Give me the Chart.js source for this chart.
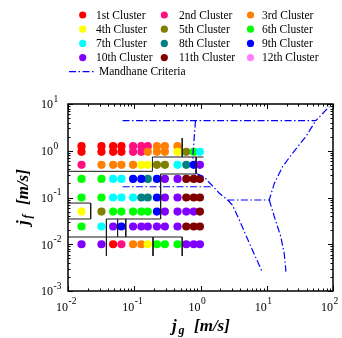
<!DOCTYPE html>
<html>
<head>
<meta charset="utf-8">
<script src="https://cdn.jsdelivr.net/npm/chart.js@4.4.1/dist/chart.umd.min.js"></script>
<style>
html, body { margin: 0; padding: 0; background: #fff; }
#wrap { width: 342px; height: 338px; }
</style>
</head>
<body>
<div id="wrap"><canvas id="flowMap" width="342" height="338"></canvas></div>
<script>
// cluster names and colours (legend order)
const clusterNames = ['1st Cluster', '2nd Cluster', '3rd Cluster', '4th Cluster', '5th Cluster', '6th Cluster',
  '7th Cluster', '8th Cluster', '9th Cluster', '10th Cluster', '11th Cluster', '12th Cluster'];
const clusterColors = ['#FF0000', '#FF1080', '#FF8000', '#FFFF00', '#808000', '#00FF00',
  '#00FFFF', '#008080', '#0000FF', '#8000FF', '#800000', '#FF80FF'];

// test matrix: gas superficial velocity columns, liquid superficial velocity rows [m/s]
const jgCols = [0.016, 0.032, 0.048, 0.064, 0.096, 0.128, 0.16, 0.22, 0.29, 0.45, 0.61, 0.79, 0.98];
const jfRows = [1.25, 0.95, 0.5, 0.25, 0.1, 0.05, 0.024, 0.01];
// cluster number of each test point (0 = no point)
const clusterGrid = [
  [1, 1, 1, 1, 2, 2, 2, 3, 3, 3, 0, 0, 0],
  [1, 1, 1, 1, 2, 2, 3, 3, 3, 4, 5, 6, 7],
  [2, 3, 3, 3, 3, 4, 4, 5, 5, 7, 8, 9, 10],
  [6, 6, 7, 7, 9, 9, 8, 9, 10, 10, 11, 11, 11],
  [6, 6, 7, 7, 7, 8, 8, 9, 10, 10, 11, 11, 11],
  [4, 5, 6, 6, 6, 6, 6, 9, 10, 10, 10, 10, 11],
  [6, 7, 10, 9, 10, 10, 10, 10, 10, 10, 11, 11, 11],
  [10, 10, 1, 2, 3, 3, 4, 6, 6, 6, 10, 10, 10]
];

// black cluster boundaries [jg, jf]
const boundaryLines = [
  [[0.01, 0.363], [0.188, 0.363], [0.188, 0.735], [1.11, 0.735]],
  [[0.53, 1.87], [0.53, 0.735]],
  [[0.86, 0.735], [0.86, 0.318], [0.25, 0.318], [0.25, 0.0347], [0.038, 0.0347], [0.038, 0.0056]],
  [[0.056, 0.0347], [0.056, 0.0143]],
  [[0.0745, 0.0347], [0.0745, 0.0143]],
  [[0.01, 0.0143], [0.53, 0.0143]],
  [[0.192, 0.0143], [0.192, 0.0056]],
  [[0.53, 0.0143], [0.53, 0.0056]],
  [[0.01, 0.076], [0.022, 0.076], [0.022, 0.0347], [0.01, 0.0347]]
];

// Mandhane flow pattern boundaries [jg, jf]
const mandhaneLines = [
  [[0.0666, 4.4], [55, 4.4], [88, 8.8]],
  [[0.84, 4.4], [0.765, 0.746], [0.86, 0.33], [1.15, 0.27], [1.93, 0.123], [2.57, 0.0885], [10.9, 0.0885],
   [13, 0.2], [17.3, 0.456], [24.4, 0.88], [38.8, 2.0], [55, 4.4]],
  [[0.0666, 0.17], [1.45, 0.17]],
  [[2.57, 0.0885], [3.03, 0.069], [3.86, 0.033], [5.45, 0.0106], [8.5, 0.0026]],
  [[10.9, 0.0885], [13, 0.039], [16.3, 0.0145], [18.3, 0.0065], [19.5, 0.0026]]
];

const xTickExps = [-2, -1, 0, 1, 2];
const yTickExps = [-3, -2, -1, 0, 1];

const SERIF = "'Liberation Serif', 'Times New Roman', serif";
const MANDHANE_DASH = [7, 2.5, 1.5, 2.5];

function clusterPoints(n) {
  const pts = [];
  clusterGrid.forEach((row, r) => {
    row.forEach((c, k) => { if (c === n) pts.push({ x: jgCols[k], y: jfRows[r] }); });
  });
  return pts;
}

const datasets = [];
clusterNames.forEach((name, i) => {
  datasets.push({
    label: name,
    data: clusterPoints(i + 1),
    backgroundColor: clusterColors[i],
    borderColor: clusterColors[i],
    pointRadius: 4.1,
    pointBorderWidth: 0,
    order: 100 - i
  });
});
boundaryLines.forEach(line => {
  datasets.push({
    type: 'line', label: 'boundary',
    data: line.map(p => ({ x: p[0], y: p[1] })),
    borderColor: '#1a1a1a', borderWidth: 1, pointRadius: 0, fill: false, tension: 0, order: 1
  });
});
mandhaneLines.forEach(line => {
  datasets.push({
    type: 'line', label: 'Mandhane Criteria',
    data: line.map(p => ({ x: p[0], y: p[1] })),
    borderColor: '#0000FF', borderWidth: 1.2, borderDash: MANDHANE_DASH,
    pointRadius: 0, fill: false, tension: 0, order: 0
  });
});

function drawPower(ctx, x, y, exp, alignRight) {
  ctx.font = '12px ' + SERIF;
  ctx.textBaseline = 'alphabetic';
  ctx.textAlign = 'left';
  const w = ctx.measureText('10').width;
  const x0 = alignRight ? x - w : x;
  ctx.fillText('10', x0, y);
  ctx.font = '9.5px ' + SERIF;
  ctx.fillText(String(exp), x0 + w + 0.5, y - 6.5);
}

const decor = {
  id: 'decor',
  afterDatasetsDraw(chart) {
    const { ctx, chartArea: a, scales: { x, y } } = chart;
    ctx.save();
    ctx.strokeStyle = '#000';
    ctx.fillStyle = '#000';
    ctx.lineWidth = 1;
    ctx.beginPath();
    // x ticks, top and bottom, inward
    for (let e = -2; e <= 2; e++) {
      for (let k = 1; k <= 9; k++) {
        if (e === 2 && k > 1) break;
        const px = Math.round(x.getPixelForValue(k * Math.pow(10, e))) + 0.5;
        const len = k === 1 ? 5 : 2.5;
        ctx.moveTo(px, a.bottom); ctx.lineTo(px, a.bottom - len);
        ctx.moveTo(px, a.top); ctx.lineTo(px, a.top + len);
      }
    }
    for (let e = -3; e <= 1; e++) {
      for (let k = 1; k <= 9; k++) {
        if (e === 1 && k > 1) break;
        const py = Math.round(y.getPixelForValue(k * Math.pow(10, e))) + 0.5;
        const len = k === 1 ? 5 : 2.5;
        ctx.moveTo(a.left, py); ctx.lineTo(a.left + len, py);
        ctx.moveTo(a.right, py); ctx.lineTo(a.right - len, py);
      }
    }
    ctx.stroke();
    ctx.lineWidth = 1.5;
    ctx.strokeRect(a.left, a.top, a.right - a.left, a.bottom - a.top);

    // tick labels
    xTickExps.forEach(e => drawPower(ctx, x.getPixelForValue(Math.pow(10, e)), 310.5, e, true));
    yTickExps.forEach(e => drawPower(ctx, 41, y.getPixelForValue(Math.pow(10, e)) + 4.3, e, false));

    // axis titles
    ctx.font = 'italic bold 17px ' + SERIF;
    ctx.textAlign = 'left';
    ctx.fillText('j', 172, 331);
    ctx.font = 'italic bold 12px ' + SERIF;
    ctx.fillText('g', 178.5, 334);
    ctx.font = 'italic bold 17px ' + SERIF;
    ctx.fillText('[m/s]', 194, 331);

    ctx.save();
    ctx.translate(28, 197);
    ctx.rotate(-Math.PI / 2);
    ctx.font = 'italic bold 17px ' + SERIF;
    ctx.fillText('j', -28, 0);
    ctx.font = 'italic bold 12px ' + SERIF;
    ctx.fillText('f', -21.5, 3);
    ctx.font = 'italic bold 17px ' + SERIF;
    ctx.fillText('[m/s]', -8, 0);
    ctx.restore();

    // legend
    const dotX = [82.7, 164.3, 250.5];
    const textX = [96, 179, 262];
    ctx.font = '11.5px ' + SERIF;
    ctx.textBaseline = 'middle';
    chart.data.datasets.slice(0, clusterNames.length).forEach((ds, i) => {
      const col = i % 3, row = Math.floor(i / 3);
      const ly = 15 + row * 14.2;
      ctx.fillStyle = ds.backgroundColor;
      ctx.beginPath();
      ctx.arc(dotX[col], ly, 3.6, 0, Math.PI * 2);
      ctx.fill();
      ctx.fillStyle = '#000';
      ctx.fillText(ds.label, textX[col], ly + 0.5);
    });
    ctx.strokeStyle = '#0000FF';
    ctx.lineWidth = 1.2;
    ctx.setLineDash(MANDHANE_DASH);
    ctx.beginPath();
    ctx.moveTo(69, 71.7); ctx.lineTo(94, 71.7);
    ctx.stroke();
    ctx.setLineDash([]);
    ctx.fillText('Mandhane Criteria', 99, 72.2);
    ctx.restore();
  }
};

new Chart(document.getElementById('flowMap').getContext('2d'), {
  type: 'scatter',
  data: { datasets: datasets },
  options: {
    responsive: false,
    animation: false,
    devicePixelRatio: 1,
    layout: { padding: { top: 104, right: 9, left: 0, bottom: 0 }, autoPadding: false },
    plugins: { legend: { display: false }, tooltip: { enabled: false } },
    scales: {
      x: {
        type: 'logarithmic', min: 0.01, max: 100,
        grid: { display: false }, border: { display: false }, ticks: { display: false },
        afterFit(s) { s.height = 47; }
      },
      y: {
        type: 'logarithmic', min: 0.001, max: 10,
        grid: { display: false }, border: { display: false }, ticks: { display: false },
        afterFit(s) { s.width = 68; }
      }
    }
  },
  plugins: [decor]
});
</script>
</body>
</html>
